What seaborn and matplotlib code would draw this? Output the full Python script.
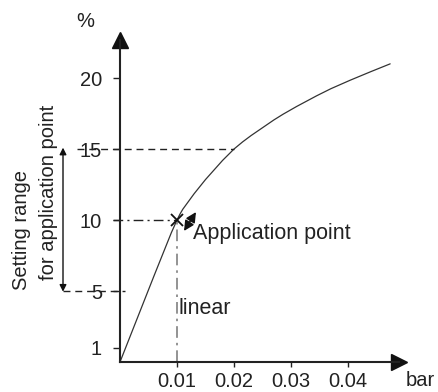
import matplotlib
matplotlib.use("Agg")
import matplotlib.pyplot as plt
import numpy as np
import pandas as pd
import seaborn as sns

# curve (pressure in bar vs. %)
pressure = [0, 0.003, 0.006, 0.009, 0.0095, 0.010, 0.0105, 0.011, 0.012, 0.013,
            0.014, 0.015, 0.016, 0.017, 0.018, 0.019, 0.020, 0.0215, 0.023, 0.025,
            0.027, 0.0286, 0.031, 0.0345, 0.037, 0.0404, 0.044, 0.0474]
percent = [0, 3.05, 6.1, 9.1, 9.55, 10.0, 10.4, 10.75, 11.3, 11.85,
           12.35, 12.85, 13.3, 13.75, 14.2, 14.6, 15.0, 15.5, 15.95, 16.5,
           17.05, 17.45, 18.0, 18.75, 19.25, 19.85, 20.45, 21.0]
x_ticks = [0.01, 0.02, 0.03, 0.04]
x_labels = ['0.01', '0.02', '0.03', '0.04']
y_ticks = [1, 5, 10, 15, 20]
y_labels = ['1', '5', '10', '15', '20']
app_point = (0.01, 10)
range_low, range_high = 5, 15

sns.set_style("ticks")
plt.rcParams['font.family'] = ['Liberation Sans', 'DejaVu Sans']
fs = 14.5
fs_big = 15.5
ink = '#222222'

fig = plt.figure(figsize=(4.38, 3.92), dpi=100)
ax = fig.add_axes([120 / 438, 30 / 392, 279 / 438, 322 / 392])

df = pd.DataFrame({'bar': pressure, 'pct': percent})
sns.lineplot(data=df, x='bar', y='pct', ax=ax, color='#333333', lw=0.9)

ax.set_xlim(0, 0.04895)
ax.set_ylim(0, 22.68)
ax.set_xlabel('')
ax.set_ylabel('')
for s in ['top', 'right']:
    ax.spines[s].set_visible(False)
for s in ['left', 'bottom']:
    ax.spines[s].set_linewidth(1.5)
    ax.spines[s].set_color(ink)

ax.set_xticks(x_ticks)
ax.set_xticklabels(x_labels, fontsize=fs)
ax.set_yticks(y_ticks)
ax.set_yticklabels(y_labels, fontsize=fs)
ax.tick_params(axis='y', direction='out', length=5, width=1, pad=8, colors=ink)
ax.tick_params(axis='x', direction='out', length=3.5, width=1, pad=4, colors=ink)

# arrow heads on the axes
ax.plot(1, 0, '>', color='#111111', ms=12, transform=ax.transAxes, clip_on=False)
ax.plot(0, 1, '^', color='#111111', ms=12, transform=ax.transAxes, clip_on=False)

# guide lines
ax.plot([-0.0075, 0.0200], [range_high, range_high], color=ink, lw=1,
        ls=(0, (5, 3.5)), clip_on=False)
ax.plot([-0.0100, 0.0009], [range_low, range_low], color=ink, lw=1,
        ls=(0, (5, 3.5)), clip_on=False)
ax.plot([-0.0012, app_point[0]], [app_point[1], app_point[1]], color=ink, lw=1,
        ls=(0, (7, 3, 1.5, 3)), clip_on=False)
ax.plot([app_point[0], app_point[0]], [0, app_point[1]], color='#808080', lw=1.2,
        ls=(0, (7, 3, 1.5, 3)))

ax.plot(*app_point, marker='x', ms=9, mew=1.3, color='#111111')

ax.annotate('', xy=(0.01333, 10.56), xytext=(0.01123, 9.23),
            arrowprops=dict(arrowstyle='<|-|>', color='#111111', lw=1.1,
                            mutation_scale=15, shrinkA=0, shrinkB=0))
ax.text(0.0128, 9.08, 'Application point', fontsize=fs_big, va='center', ha='left', color=ink)
ax.text(0.0102, 3.8, 'linear', fontsize=fs_big, va='center', ha='left', color=ink)

# setting range on the left
ax.annotate('', xy=(-0.01, 15.1), xytext=(-0.01, 4.95), annotation_clip=False,
            arrowprops=dict(arrowstyle='<|-|>', color='#111111', lw=1,
                            mutation_scale=10, shrinkA=0, shrinkB=0))
ax.text(-0.0172, 5.07, 'Setting range', rotation=90, fontsize=fs,
        ha='center', va='bottom', color=ink, clip_on=False)
ax.text(-0.0126, 5.77, 'for application point', rotation=90, fontsize=fs,
        ha='center', va='bottom', color=ink, clip_on=False)

ax.text(-0.0061, 24.0, '%', fontsize=fs, ha='center', va='center', color=ink, clip_on=False)
ax.text(0.0527, -1.3, 'bar', fontsize=fs, ha='center', va='center', color=ink, clip_on=False)

fig.savefig('out.png', dpi=100)
